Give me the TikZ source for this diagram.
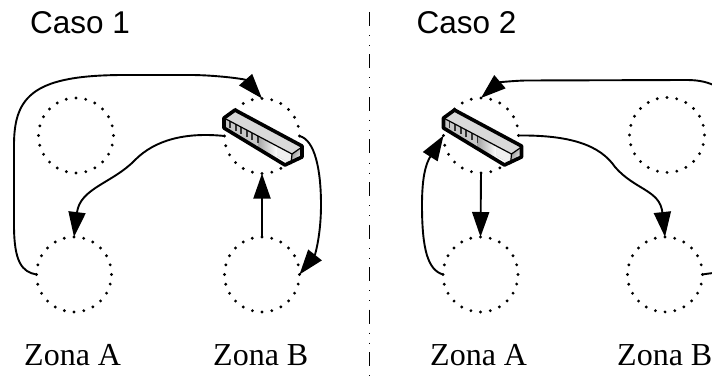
\documentclass[tikz,border=0pt]{standalone}
\usepackage{fontspec}
\usetikzlibrary{arrows.meta}
\newfontfamily\casofont{Liberation Sans}
\newfontfamily\zonafont{Liberation Serif}
\tikzset{
  x=1pt,y=-1pt,
  zona/.style={circle,minimum size=75pt,inner sep=0pt,outer sep=0pt,draw=black,line width=3.2pt,line cap=round,dash pattern=on 0pt off 9.82pt},
  link/.style={draw=black,line width=1.9pt,-{Triangle[length=25pt,width=17pt]}},
  casolabel/.style={anchor=base west,inner sep=0pt,font=\casofont\fontsize{31.5}{36}\selectfont},
  zonalabel/.style={anchor=base west,inner sep=0pt,font=\zonafont\fontsize{32}{38}\selectfont},
  divider/.style={draw=black,line width=1.5pt,dash pattern=on 14pt off 9pt on 1pt off 9pt on 1pt off 8.5pt},
  switchicon/.pic={
    \fill[black!15] (-38,-18) -- (-27,-26) -- (40,10) -- (30,18) -- cycle;
    \fill[black!22] (-38,-18) -- (30,18) -- (29,28) -- (-38,-8) -- cycle;
    \shade[left color=black!35,right color=white] (-4,1) -- (15,11) -- (15,22) -- (-4,11) -- cycle;
    \fill[black!6] (15,11) -- (30,18) -- (29,28) -- (15,20) -- cycle;
    \shade[left color=black!45,right color=white,shading angle=60] (30,18) -- (40,11) -- (40,20) -- (29,28) -- cycle;
    \foreach \i in {0,...,5}
      \fill[black!80] ({-33+\i*5.6},{-15+\i*3}) rectangle ++(1.9,7);
    \draw[line width=1.2pt] (-38,-18) -- (30,18) -- (40,11) (30,18) -- (29,28);
    \draw[line width=3.6pt,line join=round] (-38,-18) -- (-27,-26) -- (40,10) -- (40,21) -- (23,29) -- (-38,-8) -- cycle;
  }
}
\begin{document}
\begin{tikzpicture}
\useasboundingbox (0,0) rectangle (712,385);
\clip (0,0) rectangle (712,385);
\draw[divider] (369.5,12) -- (369.5,385);
% case 1
\node[zona] (a1) at (76,135.5) {};
\node[zona] (b1) at (262,136) {};
\node[zona] (c1) at (74,274.5) {};
\node[zona] (d1) at (262,274.5) {};
\pic at (262,136) {switchicon};
\node[casolabel] (t1) at (30,33.5) {Caso 1};
\node[zonalabel] (z1a) at (24,365) {Zona A};
\node[zonalabel] (z1b) at (213,365) {Zona B};
\draw[link] (c1.west) .. controls (22,272) and (14,262) .. (14,225) -- (14,145)
  .. controls (14,95) and (35,75) .. (125,75) -- (190,75)
  .. controls (215,75) and (245,79) .. (b1.north);
\draw[link] (b1.west) .. controls (185,132) and (155,140) .. (135,160)
  .. controls (113,183) and (80,188) .. (c1.north);
\draw[link] (d1.north) -- (b1.south);
\draw[link] (b1.east) .. controls (315,140) and (321,170) .. (321,205)
  .. controls (321,235) and (315,255) .. (d1.east);
% case 2
\node[zona] (a2) at (481,135.5) {};
\node[zona] (b2) at (667,135) {};
\node[zona] (c2) at (480.5,274.5) {};
\node[zona] (d2) at (665,274.5) {};
\pic at (481.5,136) {switchicon};
\node[casolabel] (t2) at (416.5,33.5) {Caso 2};
\node[zonalabel] (z2a) at (430,365) {Zona A};
\node[zonalabel] (z2b) at (617,365) {Zona B};
\draw[link] (c2.west) .. controls (428,270) and (422,250) .. (422,205)
  .. controls (422,180) and (425,165) .. (a2.west);
\draw[link] (a2.south) -- (c2.north);
\draw[link] (a2.east) .. controls (570,135) and (600,145) .. (615,167)
  .. controls (635,190) and (660,190) .. (d2.north);
\draw[link] (d2.east) .. controls (715,272) and (730,275) .. (730,250) -- (730,110)
  .. controls (730,90) and (712,80) .. (687,80) -- (525,80.5)
  .. controls (510,81) and (499,82.5) .. (a2.north);
\end{tikzpicture}
\end{document}
